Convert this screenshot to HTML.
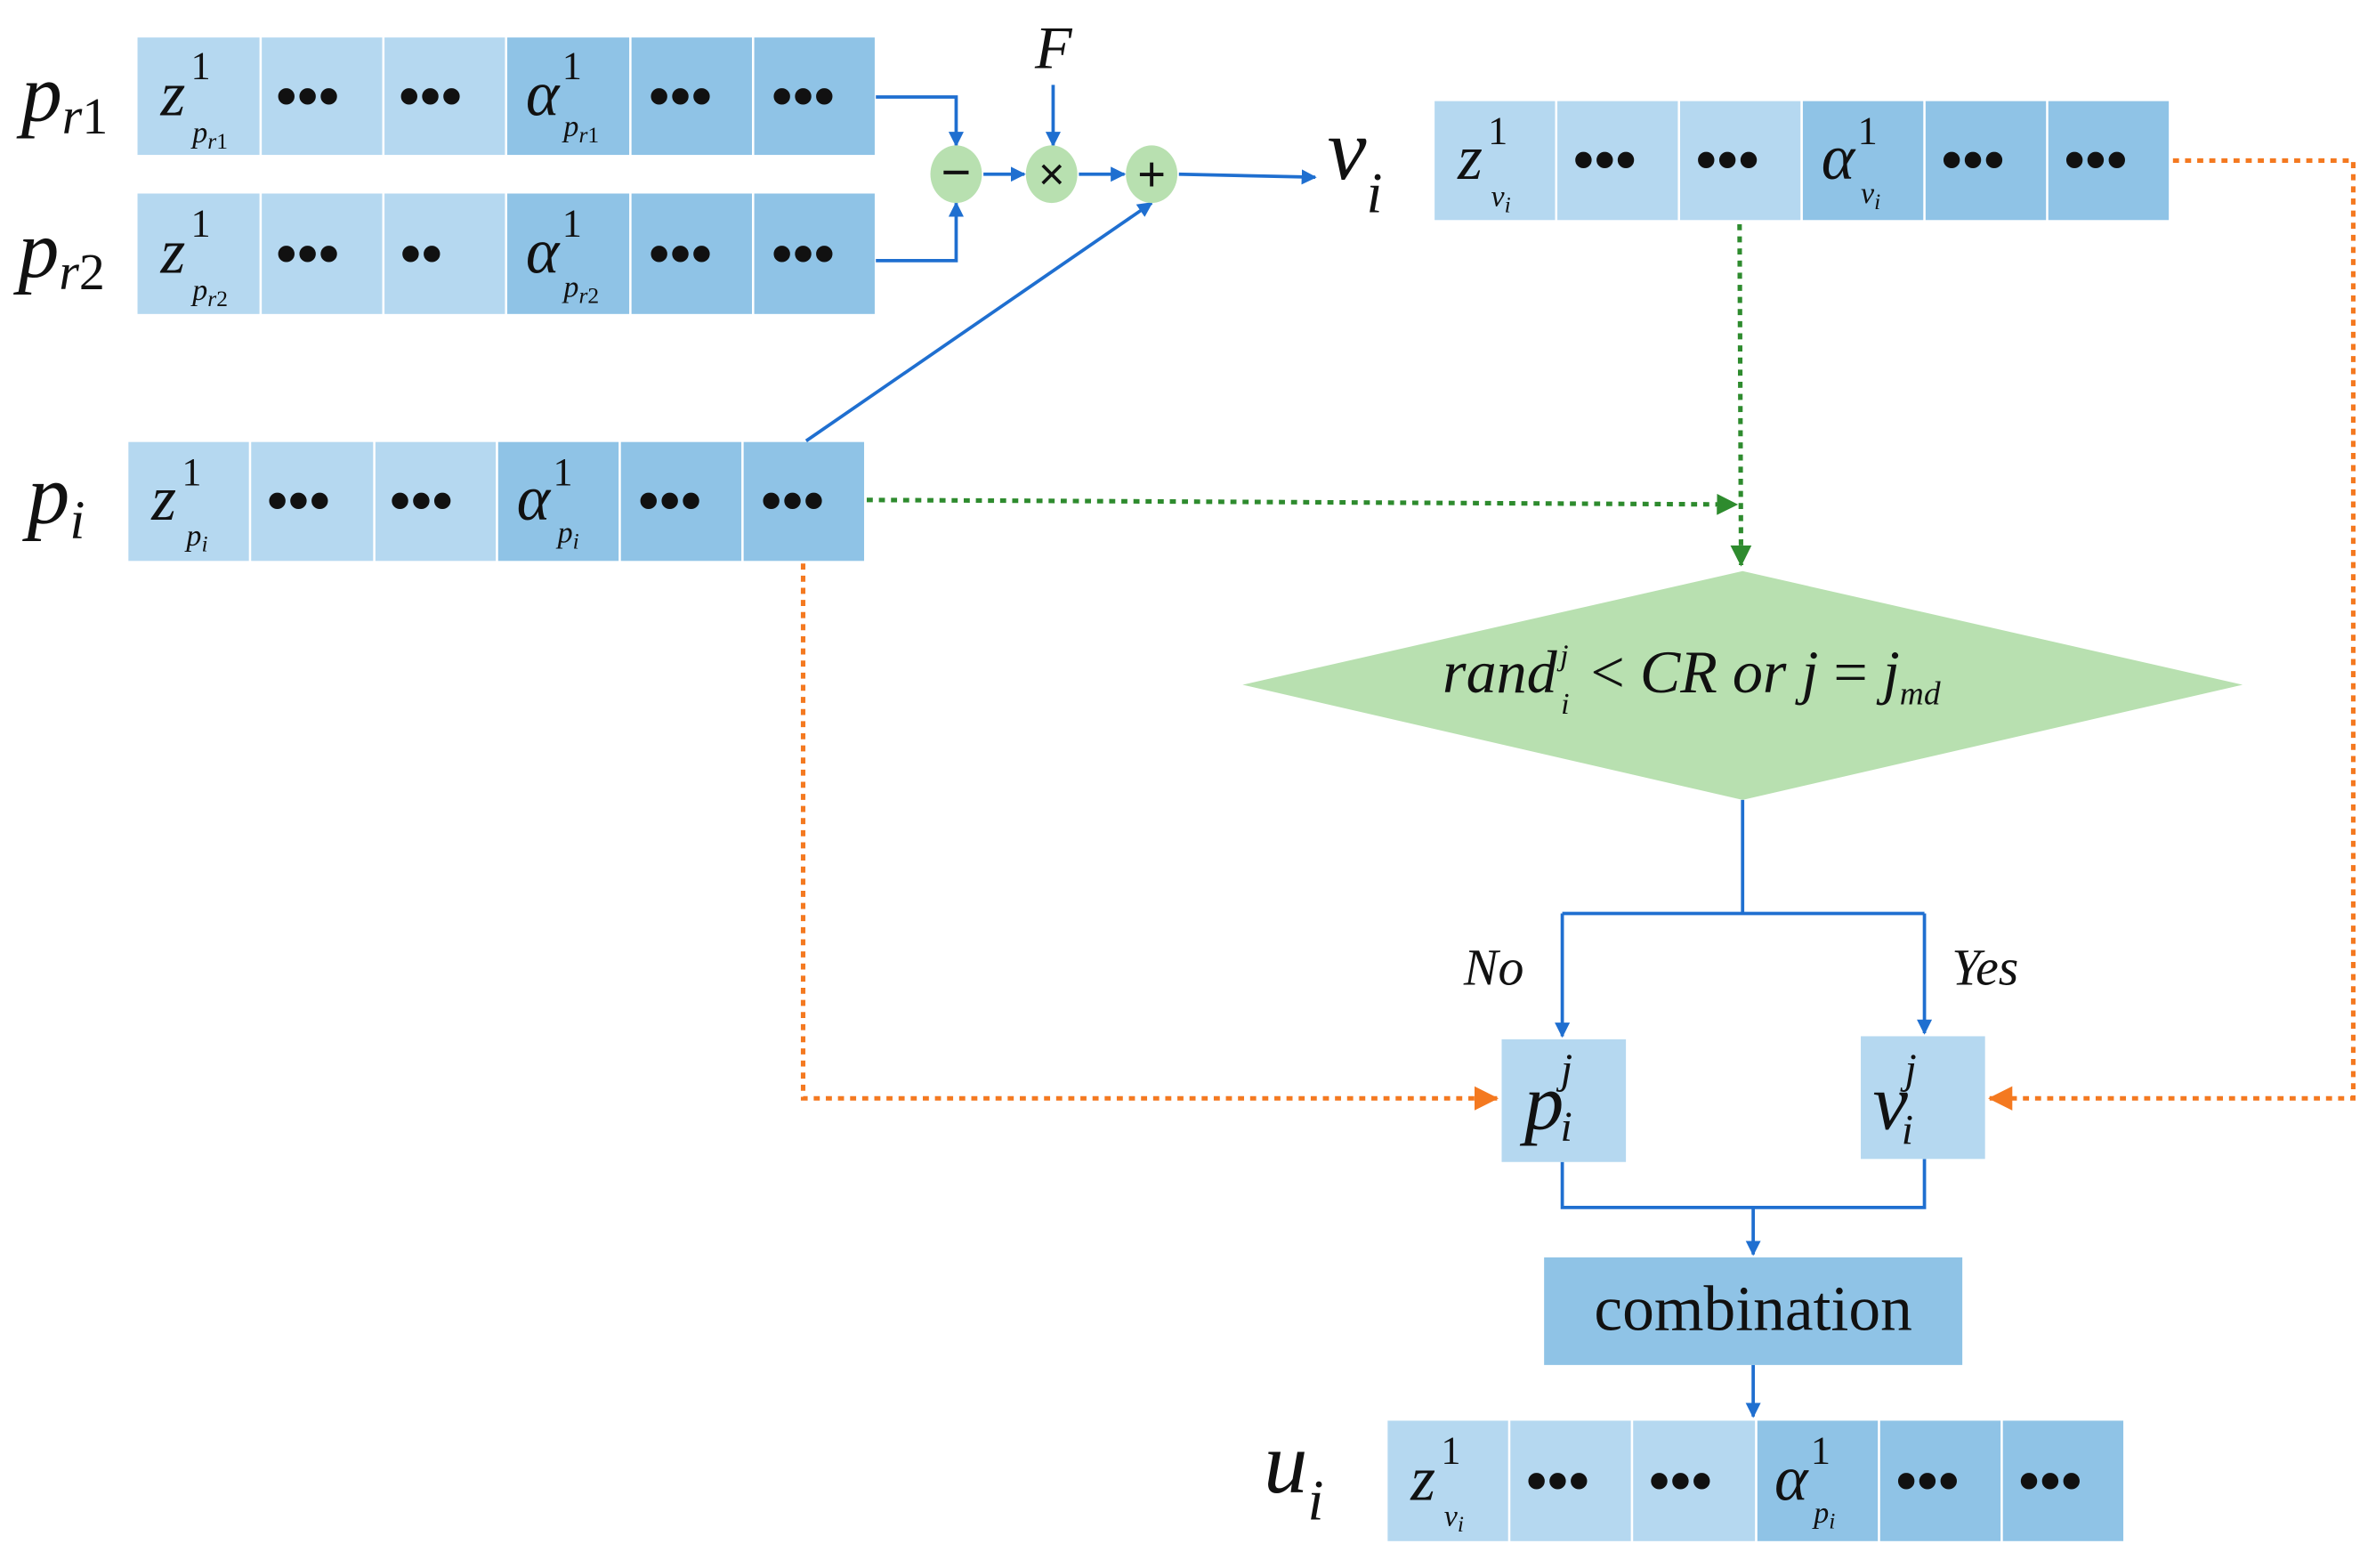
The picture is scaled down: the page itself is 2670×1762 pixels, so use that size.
<!DOCTYPE html>
<html><head><meta charset="utf-8"><style>
html,body{margin:0;padding:0;background:#fff}
svg{display:block}
text{font-family:"Liberation Serif","Times New Roman","DejaVu Serif",serif;font-style:italic;fill:#111}
text.n{font-style:normal}
text.d{font-style:normal;font-weight:bold;font-size:40px;font-family:"Liberation Serif","DejaVu Serif",serif}
text.s{font-family:"Liberation Sans","DejaVu Sans",sans-serif;font-style:normal}
</style></head><body>
<svg width="2670" height="1762" viewBox="0 0 1568 1035" preserveAspectRatio="none" xmlns="http://www.w3.org/2000/svg">
<defs>
<marker id="ab" markerWidth="10" markerHeight="10" refX="9" refY="5" orient="auto" markerUnits="userSpaceOnUse"><path d="M0,0 L10,5 L0,10 z" fill="#1f6fd0"/></marker>
<marker id="ag" markerWidth="14" markerHeight="14" refX="13" refY="7" orient="auto" markerUnits="userSpaceOnUse"><path d="M0,0 L14,7 L0,14 z" fill="#2e8b2e"/></marker>
<marker id="ao" markerWidth="16" markerHeight="16" refX="15" refY="8" orient="auto" markerUnits="userSpaceOnUse"><path d="M0,0 L16,8 L0,16 z" fill="#f47920"/></marker>
</defs>

<g stroke="#ffffff" stroke-width="1.5">
<rect x="90" y="24" width="244" height="79" fill="#b5d8f0"/><rect x="334" y="24" width="244" height="79" fill="#8fc3e6"/>
<line x1="172" y1="24" x2="172" y2="103"/><line x1="253" y1="24" x2="253" y2="103"/><line x1="416" y1="24" x2="416" y2="103"/><line x1="497" y1="24" x2="497" y2="103"/>
<rect x="90" y="127" width="244" height="81" fill="#b5d8f0"/><rect x="334" y="127" width="244" height="81" fill="#8fc3e6"/>
<line x1="172" y1="127" x2="172" y2="208"/><line x1="253" y1="127" x2="253" y2="208"/><line x1="416" y1="127" x2="416" y2="208"/><line x1="497" y1="127" x2="497" y2="208"/>
<rect x="84" y="291" width="244" height="80" fill="#b5d8f0"/><rect x="328" y="291" width="243" height="80" fill="#8fc3e6"/>
<line x1="165" y1="291" x2="165" y2="371"/><line x1="247" y1="291" x2="247" y2="371"/><line x1="409" y1="291" x2="409" y2="371"/><line x1="490" y1="291" x2="490" y2="371"/>
<rect x="946" y="66" width="243" height="80" fill="#b5d8f0"/><rect x="1189" y="66" width="243" height="80" fill="#8fc3e6"/>
<line x1="1027" y1="66" x2="1027" y2="146"/><line x1="1108" y1="66" x2="1108" y2="146"/><line x1="1270" y1="66" x2="1270" y2="146"/><line x1="1351" y1="66" x2="1351" y2="146"/>
<rect x="915" y="937" width="244" height="81" fill="#b5d8f0"/><rect x="1159" y="937" width="243" height="81" fill="#8fc3e6"/>
<line x1="996" y1="937" x2="996" y2="1018"/><line x1="1077" y1="937" x2="1077" y2="1018"/><line x1="1240" y1="937" x2="1240" y2="1018"/><line x1="1321" y1="937" x2="1321" y2="1018"/>
</g>

<text x="14" y="80" font-size="54">p<tspan font-size="34" dy="8">r</tspan><tspan font-size="34" style="font-style:normal">1</tspan></text>
<text x="12" y="183" font-size="54">p<tspan font-size="34" dy="8">r</tspan><tspan font-size="34" style="font-style:normal">2</tspan></text>
<text x="18" y="345" font-size="56">p<tspan font-size="36" dy="10">i</tspan></text>
<text x="876" y="118" font-size="58">v<tspan font-size="38" dy="22">i</tspan></text>
<text x="834" y="985" font-size="58">u<tspan font-size="38" dy="18">i</tspan></text>

<!-- pr1 -->
<text x="106" y="76" font-size="42">z</text><text class="n" x="126" y="52" font-size="26">1</text><text x="127" y="94" font-size="20">p<tspan font-size="15" dy="4">r</tspan><tspan font-size="15" style="font-style:normal">1</tspan></text>
<text x="182" y="77" class="d">•••</text><text x="263" y="77" class="d">•••</text>
<text x="347" y="76" font-size="42">α</text><text class="n" x="371" y="52" font-size="26">1</text><text x="372" y="90" font-size="20">p<tspan font-size="15" dy="4">r</tspan><tspan font-size="15" style="font-style:normal">1</tspan></text>
<text x="428" y="77" class="d">•••</text><text x="509" y="77" class="d">•••</text>
<!-- pr2 -->
<text x="106" y="180" font-size="42">z</text><text class="n" x="126" y="156" font-size="26">1</text><text x="127" y="198" font-size="20">p<tspan font-size="15" dy="4">r</tspan><tspan font-size="15" style="font-style:normal">2</tspan></text>
<text x="182" y="181" class="d">•••</text><text x="264" y="181" class="d">••</text>
<text x="347" y="180" font-size="42">α</text><text class="n" x="371" y="156" font-size="26">1</text><text x="372" y="196" font-size="20">p<tspan font-size="15" dy="4">r</tspan><tspan font-size="15" style="font-style:normal">2</tspan></text>
<text x="428" y="181" class="d">•••</text><text x="509" y="181" class="d">•••</text>
<!-- pi -->
<text x="100" y="343" font-size="42">z</text><text class="n" x="120" y="320" font-size="26">1</text><text x="123" y="360" font-size="20">p<tspan font-size="15" dy="4">i</tspan></text>
<text x="176" y="344" class="d">•••</text><text x="257" y="344" class="d">•••</text>
<text x="341" y="343" font-size="42">α</text><text class="n" x="365" y="320" font-size="26">1</text><text x="368" y="358" font-size="20">p<tspan font-size="15" dy="4">i</tspan></text>
<text x="421" y="344" class="d">•••</text><text x="502" y="344" class="d">•••</text>
<!-- vi -->
<text x="962" y="118" font-size="42">z</text><text class="n" x="982" y="95" font-size="26">1</text><text x="984" y="136" font-size="20">v<tspan font-size="15" dy="4">i</tspan></text>
<text x="1038" y="119" class="d">•••</text><text x="1119" y="119" class="d">•••</text>
<text x="1202" y="118" font-size="42">α</text><text class="n" x="1226" y="95" font-size="26">1</text><text x="1228" y="134" font-size="20">v<tspan font-size="15" dy="4">i</tspan></text>
<text x="1281" y="119" class="d">•••</text><text x="1362" y="119" class="d">•••</text>
<!-- ui -->
<text x="931" y="990" font-size="42">z</text><text class="n" x="951" y="966" font-size="26">1</text><text x="953" y="1007" font-size="20">v<tspan font-size="15" dy="4">i</tspan></text>
<text x="1007" y="991" class="d">•••</text><text x="1088" y="991" class="d">•••</text>
<text x="1171" y="990" font-size="42">α</text><text class="n" x="1195" y="966" font-size="26">1</text><text x="1197" y="1005" font-size="20">p<tspan font-size="15" dy="4">i</tspan></text>
<text x="1251" y="991" class="d">•••</text><text x="1332" y="991" class="d">•••</text>

<g fill="none" stroke="#1f6fd0" stroke-width="2.2">
<polyline points="578,64 631,64 631,96" marker-end="url(#ab)"/>
<polyline points="578,172 631,172 631,134" marker-end="url(#ab)"/>
<line x1="695" y1="56" x2="695" y2="96" marker-end="url(#ab)"/>
<line x1="649" y1="115" x2="676" y2="115" marker-end="url(#ab)"/>
<line x1="712" y1="115" x2="742" y2="115" marker-end="url(#ab)"/>
<line x1="778" y1="115" x2="868" y2="117" marker-end="url(#ab)"/>
<line x1="532" y1="291" x2="760" y2="134" marker-end="url(#ab)"/>
</g>
<ellipse cx="631" cy="115" rx="17" ry="19" fill="#b8e0b0"/>
<ellipse cx="694" cy="115" rx="17" ry="19" fill="#b8e0b0"/>
<ellipse cx="760" cy="115" rx="17" ry="19" fill="#b8e0b0"/>
<text class="s" x="631" y="125" font-size="34" text-anchor="middle">−</text>
<text class="s" x="694" y="125" font-size="30" text-anchor="middle">×</text>
<text class="s" x="760" y="126" font-size="32" text-anchor="middle">+</text>
<text x="683" y="45" font-size="40">F</text>

<g fill="none" stroke="#2e8b2e" stroke-width="3" stroke-dasharray="4,4">
<line x1="572" y1="330" x2="1146" y2="333" marker-end="url(#ag)"/>
<line x1="1148" y1="148" x2="1149" y2="373" marker-end="url(#ag)"/>
</g>

<polygon points="1150,377 1480,452 1150,528 820,452" fill="#b8e0b0"/>
<text x="952" y="457" font-size="40">rand<tspan font-size="20" dx="2" dy="-18">j</tspan><tspan font-size="20" dx="-5" dy="32">i</tspan><tspan dx="14" dy="-14" style="font-style:normal">&lt;</tspan> CR or j <tspan style="font-style:normal">=</tspan> j<tspan font-size="22" dy="8">md</tspan></text>

<g fill="none" stroke="#1f6fd0" stroke-width="2.2">
<line x1="1150" y1="528" x2="1150" y2="603"/>
<line x1="1031" y1="603" x2="1270" y2="603"/>
<line x1="1031" y1="603" x2="1031" y2="684" marker-end="url(#ab)"/>
<line x1="1270" y1="603" x2="1270" y2="682" marker-end="url(#ab)"/>
<polyline points="1031,767 1031,797 1270,797 1270,765"/>
<line x1="1157" y1="797" x2="1157" y2="828" marker-end="url(#ab)"/>
<line x1="1157" y1="901" x2="1157" y2="935" marker-end="url(#ab)"/>
</g>
<text x="966" y="650" font-size="34">No</text>
<text x="1288" y="650" font-size="34">Yes</text>

<rect x="991" y="686" width="82" height="81" fill="#b5d8f0"/>
<rect x="1228" y="684" width="82" height="81" fill="#b5d8f0"/>
<text x="1006" y="745" font-size="52">p<tspan font-size="28" dx="-2" dy="-30">j</tspan><tspan font-size="28" dx="-8" dy="38">i</tspan></text>
<text x="1236" y="745" font-size="52">v<tspan font-size="28" dx="-2" dy="-30">j</tspan><tspan font-size="28" dx="-10" dy="40">i</tspan></text>

<rect x="1019" y="830" width="276" height="71" fill="#8fc3e6"/>
<text class="n" x="1157" y="878" font-size="42" text-anchor="middle">combination</text>

<g fill="none" stroke="#f47920" stroke-width="3" stroke-dasharray="4,4">
<polyline points="530,372 530,725 988,725" marker-end="url(#ao)"/>
<polyline points="1434,106 1553,106 1553,725 1313,725" marker-end="url(#ao)"/>
</g>
</svg>
</body></html>
